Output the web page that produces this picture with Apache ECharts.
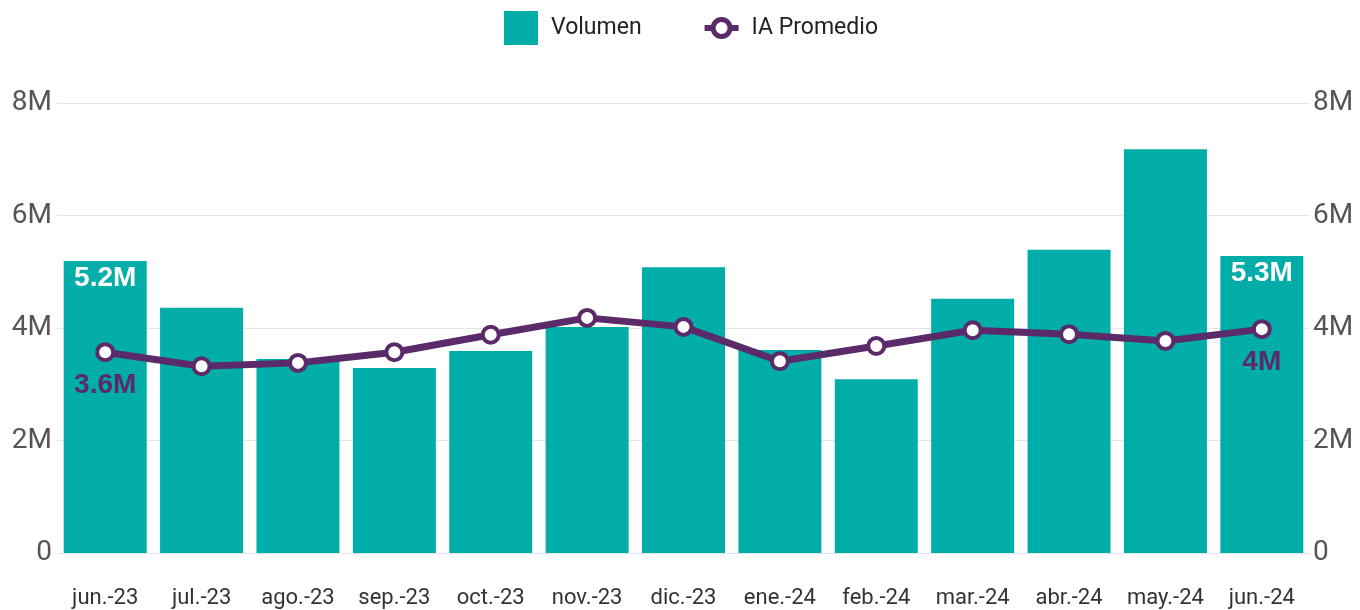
<!DOCTYPE html>
<html lang="es">
<head>
    <meta charset="UTF-8">
    <title>Volumen</title>
    <script src="https://cdn.jsdelivr.net/npm/echarts@6/dist/echarts.min.js"></script>
</head>
<style>
html,body{margin:0;padding:0;background-color:#ffffff}
#chartBox{width:1360px;height:610px}
</style>
<body>
    <div id="chartBox"></div>
</body>
<script>
// datos
const meses = ['jun.-23','jul.-23','ago.-23','sep.-23','oct.-23','nov.-23','dic.-23','ene.-24','feb.-24','mar.-24','abr.-24','may.-24','jun.-24'];
const volumen = [5190000, 4360000, 3450000, 3290000, 3590000, 4020000, 5080000, 3610000, 3090000, 4520000, 5390000, 7180000, 5280000];
const iaPromedio = [3570000, 3320000, 3380000, 3570000, 3880000, 4180000, 4020000, 3410000, 3680000, 3960000, 3890000, 3770000, 3980000];
const ejeTicks = [0, 2000000, 4000000, 6000000, 8000000];

const TEAL = '#01ADA9';
const PURPLE = '#5A2B68';
// icono leyenda: línea corta + anillo
const ICONO_LINEA = 'path://M0 14H7V20H0Z M27 14H34V20H27Z M6 17A11 11 0 1 1 28 17A11 11 0 1 1 6 17Z M11 17A6 6 0 1 0 23 17A6 6 0 1 0 11 17Z';

function fmtM(v) {
    if (v === 0) return '0';
    let m = Math.round(v / 100000) / 10;
    return m + 'M';
}

// solo etiqueta en primero y último
function soloExtremos(arr) {
    return arr.map((v, i) => {
        if (i === 0 || i === arr.length - 1) return {value: v, label: {show: true}};
        return v;
    });
}

function yAxisCfg(pos) {
    return {
        type: 'value',
        position: pos,
        min: ejeTicks[0],
        max: ejeTicks[ejeTicks.length - 1],
        interval: ejeTicks[1] - ejeTicks[0],
        axisLine: {show: false},
        axisTick: {show: false},
        axisLabel: {
            formatter: fmtM,
            color: '#555555',
            fontSize: 28,
            fontFamily: 'Roboto',
            margin: pos === 'left' ? 5 : 3
        },
        splitLine: {show: pos === 'left', lineStyle: {color: '#e6e6e6', width: 1}}
    };
}

let chartObj = echarts.init(document.getElementById('chartBox'));
chartObj.setOption({
    animation: false,
    grid: {left: 57, right: 50, top: 103, bottom: 57},
    legend: {
        top: 6,
        left: 499,
        itemGap: 63,
        itemWidth: 34,
        itemHeight: 34,
        symbolKeepAspect: true,
        textStyle: {fontSize: 23, color: '#222222', fontFamily: 'Roboto', padding: [0, 0, 0, 8]},
        data: [
            {name: 'Volumen', icon: 'rect', itemStyle: {color: TEAL}},
            {name: 'IA Promedio', icon: ICONO_LINEA, itemStyle: {color: PURPLE, borderWidth: 0}}
        ]
    },
    xAxis: {
        type: 'category',
        data: meses,
        axisLine: {show: true, lineStyle: {color: '#e6e6e6'}},
        axisTick: {show: false},
        axisLabel: {color: '#333333', fontSize: 22, fontFamily: 'Roboto', margin: 34, interval: 0}
    },
    yAxis: [yAxisCfg('left'), yAxisCfg('right')],
    series: [
        {
            type: 'bar',
            name: 'Volumen',
            yAxisIndex: 0,
            barWidth: 83,
            itemStyle: {color: TEAL},
            label: {
                show: false,
                position: 'insideTop',
                distance: 3,
                color: '#ffffff',
                fontSize: 28,
                fontWeight: 'bold',
                fontFamily: 'Liberation Sans',
                formatter: p => fmtM(p.value)
            },
            data: soloExtremos(volumen)
        },
        {
            type: 'line',
            name: 'IA Promedio',
            yAxisIndex: 1,
            symbol: 'circle',
            symbolSize: 16,
            lineStyle: {color: PURPLE, width: 7},
            itemStyle: {color: '#ffffff', borderColor: PURPLE, borderWidth: 4},
            label: {
                show: false,
                position: 'bottom',
                distance: 9,
                color: PURPLE,
                fontSize: 28,
                fontWeight: 'bold',
                fontFamily: 'Liberation Sans',
                formatter: p => fmtM(p.value)
            },
            z: 5,
            data: soloExtremos(iaPromedio)
        }
    ]
});
</script>
</html>
